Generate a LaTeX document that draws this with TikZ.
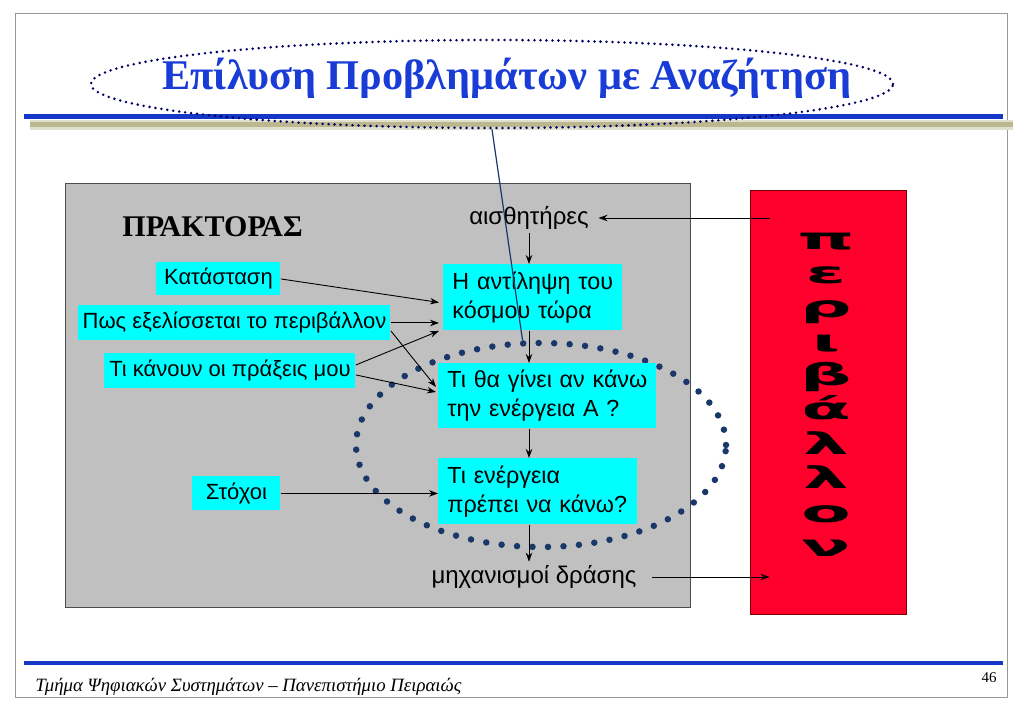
\documentclass[tikz,border=0pt]{standalone}
\usepackage{fontspec}
\setmainfont{Liberation Serif}
\setsansfont{Liberation Sans}
\newfontfamily\heavyfont{DejaVu Sans}
\usepackage{tikz}
\usetikzlibrary{shapes.geometric,arrows.meta,positioning}
\definecolor{titleblue}{RGB}{25,60,215}
\definecolor{rulecol}{RGB}{20,55,200}
\definecolor{dotnavy}{RGB}{0,0,100}
\definecolor{loopnavy}{RGB}{25,55,105}
\definecolor{aqua}{RGB}{0,255,255}
\definecolor{agentgray}{RGB}{192,192,192}
\definecolor{envred}{RGB}{255,0,45}
\definecolor{shadowkhaki}{RGB}{170,165,115}

\begin{document}
\begin{tikzpicture}[x=1pt,y=-1pt,line width=0.9pt,>={Stealth[length=9pt,width=6.5pt]},
    cbox/.style={fill=aqua, inner sep=0pt, anchor=north west, font=\sffamily\fontsize{22}{28}\selectfont},
    cbox2/.style={cbox, align=left, inner xsep=9pt, font=\sffamily\fontsize{23.3}{29}\selectfont},
    plain/.style={font=\sffamily\fontsize{24}{28}\selectfont},
    envch/.style={font=\heavyfont\bfseries\fontsize{30}{30}\selectfont, xscale=2.4, anchor=base, inner sep=0pt}]
    \useasboundingbox (0,0) rectangle (1023,708);
    \draw[gray!80, line width=1pt] (15,14) rectangle (1007,697);

    % title and rules
    \draw[shadowkhaki!35, line width=10pt] (30,125) -- (1013,125);
    \draw[shadowkhaki!80, line width=5pt] (30,125) -- (1013,125);
    \draw[rulecol, line width=5pt] (24,117) -- (1003,117);
    \draw[rulecol, line width=4pt] (24,663) -- (1003,663);
    \node[ellipse, minimum width=802pt, minimum height=88pt, inner sep=0pt, draw=dotnavy, line width=2.8pt, dash pattern=on 0pt off 6pt, line cap=round] (ttl) at (492,84) {};
    \node[font=\bfseries\fontsize{42.3}{44}\selectfont, text=titleblue, anchor=base, inner sep=0pt] (ttltext) at (507,90) {Επίλυση Προβλημάτων με Αναζήτηση};

    % agent
    \node[fill=agentgray, draw=black!70, minimum width=625pt, minimum height=424pt] (agent) at (377.5,395) {};
    \node[font=\bfseries\fontsize{30}{30}\selectfont, anchor=base west, inner sep=0pt] (agentlbl) at (122,237) {ΠΡΑΚΤΟΡΑΣ};
    \node[ellipse, minimum width=370pt, minimum height=204pt, inner sep=0pt, draw=loopnavy, line width=6.5pt, dash pattern=on 0pt off 15.5pt, line cap=round] (loop) at (541,445) {};

    \node[plain] (sens) at (529,218) {αισθητήρες};
    \node[plain] (act) at (534,577) {μηχανισμοί δράσης};
    \node[cbox, minimum width=124pt, minimum height=33pt] (state) at (156,262) {Κατάσταση};
    \node[cbox, minimum width=312pt, minimum height=35pt] (evol) at (78,305) {Πως εξελίσσεται το περιβάλλον};
    \node[cbox, minimum width=251pt, minimum height=35pt] (acts) at (104,353) {Τι κάνουν οι πράξεις μου};
    \node[cbox, minimum width=88pt, minimum height=34pt] (goal) at (192,476) {Στόχοι};
    \node[cbox2, text width=161pt, minimum height=66pt] (perc) at (443,264) {Η αντίληψη του\\κόσμου τώρα};
    \node[cbox2, text width=200pt, minimum height=65pt] (pred) at (438,363) {Τι θα γίνει αν κάνω\\την ενέργεια Α ?};
    \node[cbox2, text width=181pt, minimum height=66pt] (dec) at (438,458) {Τι ενέργεια\\πρέπει να κάνω?};

    % environment
    \node[fill=envred, draw=red!45!black, minimum width=156pt, minimum height=424pt] (env) at (828,402) {};
    \foreach \ch [count=\i from 0] in {π,ε,ρ,ι,β,ά,λ,λ,ο,ν}
        \node[envch] (ch\i) at (826,{250+34*\i}) {\ch};

    \draw[->] ([xshift=20pt]env.west |- sens) -- ([xshift=6pt]sens.east);
    \draw[->] (sens.south) -- (sens.south |- perc.north);
    \draw[->] (state.east) -- ([yshift=-5pt,xshift=-4pt]perc.west);
    \draw[->] (evol.east) -- ([xshift=-4pt]evol.east -| perc.west);
    \draw[->] ([yshift=-8pt]evol.east) -- ([yshift=-24pt,xshift=-2pt]pred.north west);
    \draw[->] ([yshift=6pt]acts.east) -- ([xshift=-4pt]perc.south west);
    \draw[->] ([yshift=-4pt]acts.east) -- ([yshift=-29pt,xshift=-2pt]pred.north west);
    \draw[->] (perc.south -| sens) -- (pred.north -| sens);
    \draw[->] (pred.south -| sens) -- (dec.north -| sens);
    \draw[->] (goal.east) -- (goal.east -| dec.west);
    \draw[->] (dec.south -| sens) -- (act.north -| sens);
    \draw[->] ([xshift=12pt]act.east) -- ([xshift=20pt]env.west |- act);

    \draw[loopnavy, line width=1.2pt] (ttl.south) -- (loop.100);

    % footer
    \node[font=\itshape\fontsize{18.8}{19}\selectfont, anchor=base west, inner sep=0pt] (foot) at (35,691) {Τμήμα Ψηφιακών Συστημάτων – Πανεπιστήμιο Πειραιώς};
    \node[font=\fontsize{15}{15}\selectfont, anchor=base east, inner sep=0pt] (page) at (997,682) {46};
\end{tikzpicture}
\end{document}
